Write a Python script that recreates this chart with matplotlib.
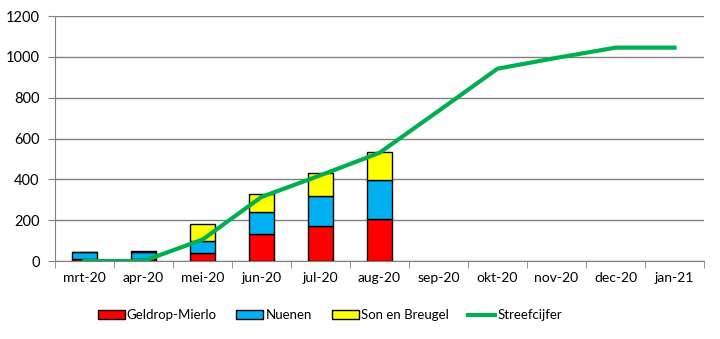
import numpy as np
import matplotlib.pyplot as plt

plt.rcParams['font.family'] = ['Lato', 'DejaVu Sans']

maanden = ["mrt-20", "apr-20", "mei-20", "jun-20", "jul-20", "aug-20",
           "sep-20", "okt-20", "nov-20", "dec-20", "jan-21"]
geldrop = [11, 12, 41, 130, 173, 207]
nuenen = [32, 33, 55, 108, 146, 191]
son = [0, 3, 84, 88, 110, 138]
streef = [0, 0, 105, 314, 420, 530, 735, 942, 995, 1045, 1045]

fig = plt.figure(figsize=(7.2, 3.39), dpi=100)
ax = fig.add_axes([0.0764, 0.230, 0.9014, 0.7228])

x = np.arange(len(maanden))
xb = x[:len(geldrop)]
g = np.array(geldrop)
n = np.array(nuenen)
s = np.array(son)
bw = 0.42
b1 = ax.bar(xb, g, bw, color='#FF0000', edgecolor='black', linewidth=1, label='Geldrop-Mierlo', zorder=2)
b2 = ax.bar(xb, n, bw, bottom=g, color='#00B0F0', edgecolor='black', linewidth=1, label='Nuenen', zorder=2)
b3 = ax.bar(xb, s, bw, bottom=g + n, color='#FFFF00', edgecolor='black', linewidth=1, label='Son en Breugel', zorder=2)
l1, = ax.plot(x, streef, color='#00B050', linewidth=3, label='Streefcijfer', zorder=3)

ax.set_xlim(-0.5, len(maanden) - 0.5)
ax.set_ylim(0, 1200)
ax.set_yticks(range(0, 1201, 200))
ax.set_xticks(x)
ax.set_xticklabels(maanden)
ax.set_xticks(np.arange(-0.5, len(maanden), 1), minor=True)
ax.tick_params(axis='x', which='major', length=0, pad=8, labelsize=10)
ax.tick_params(axis='x', which='minor', length=5, color='#808080')
ax.tick_params(axis='y', length=5, color='#808080', labelsize=10.5, pad=6)
ax.grid(axis='y', color='#808080', linewidth=1, zorder=0)
ax.set_axisbelow(True)
for sp in ['top', 'right']:
    ax.spines[sp].set_visible(False)
for sp in ['left', 'bottom']:
    ax.spines[sp].set_color('#808080')

fig.legend([b1, b2, b3, l1], ['Geldrop-Mierlo', 'Nuenen', 'Son en Breugel', 'Streefcijfer'],
           loc='center', bbox_to_anchor=(0.458, 0.07), ncol=4, frameon=False,
           fontsize=9.5, handlelength=2.05, handleheight=0.7, handletextpad=0.15,
           columnspacing=1.5)

plt.savefig('out.png', dpi=100)
